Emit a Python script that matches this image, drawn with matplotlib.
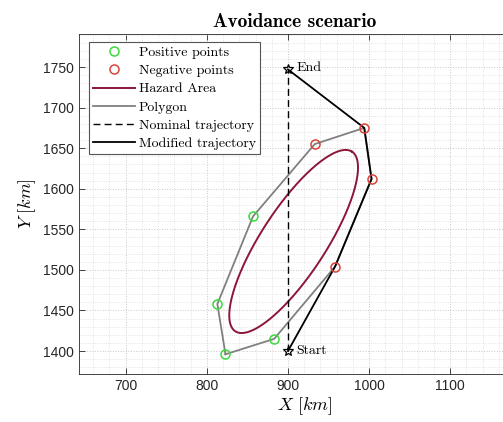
import numpy as np
import matplotlib
matplotlib.use("Agg")
import matplotlib.pyplot as plt
from matplotlib.ticker import MultipleLocator

plt.rcParams['mathtext.fontset'] = 'cm'

# ---- data ----
pos_x = [823, 883, 857, 813]
pos_y = [1396, 1415, 1566, 1458]
neg_x = [933, 994, 1003, 958]
neg_y = [1655, 1675, 1612, 1504]

poly_x = [823, 883, 958, 1003, 994, 933, 857, 813, 823]
poly_y = [1396, 1415, 1504, 1612, 1675, 1655, 1566, 1458, 1396]

nom_x = [900, 900]
nom_y = [1400, 1747]

mod_x = [900, 958, 1003, 994, 900]
mod_y = [1400, 1504, 1612, 1675, 1747]

start_pt = (900, 1400)
end_pt = (900, 1747)

haz_center = (907, 1535)
haz_a = 132.0
haz_b = 40.0
haz_angle_deg = 57.0

xticks = [700, 800, 900, 1000, 1100]
yticks = [1400, 1450, 1500, 1550, 1600, 1650, 1700, 1750]

# ---- figure ----
W, H = 503, 422
fig = plt.figure(figsize=(W / 100, H / 100), dpi=100)
ax_l, ax_r, ax_t, ax_b = 79, 530, 34, 374
ax = fig.add_axes([ax_l / W, (H - ax_b) / H, (ax_r - ax_l) / W, (ax_b - ax_t) / H])

scale = 0.8115  # px per km
x0 = 642.5
ax.set_xlim(x0, x0 + (ax_r - ax_l) / scale)
ax.set_ylim(1371.7, 1371.7 + (ax_b - ax_t) / scale)

# hazard ellipse
t = np.linspace(0, 2 * np.pi, 400)
phi = np.deg2rad(haz_angle_deg)
ex = haz_center[0] + haz_a * np.cos(t) * np.cos(phi) - haz_b * np.sin(t) * np.sin(phi)
ey = haz_center[1] + haz_a * np.cos(t) * np.sin(phi) + haz_b * np.sin(t) * np.cos(phi)

green = '#3cd93c'
red = '#d9443a'
hazard = '#8c1538'
gray = '#808080'

h_pos, = ax.plot(pos_x, pos_y, 'o', ms=6.5, mfc='none', mec=green, mew=1.1, zorder=6)
h_neg, = ax.plot(neg_x, neg_y, 'o', ms=6.5, mfc='none', mec=red, mew=1.1, zorder=6)
h_haz, = ax.plot(ex, ey, '-', color=hazard, lw=1.4, zorder=3)
h_poly, = ax.plot(poly_x, poly_y, '-', color=gray, lw=1.3, zorder=3)
h_nom, = ax.plot(nom_x, nom_y, '--', color='black', lw=1.0, dashes=(5, 3), zorder=4)
h_mod, = ax.plot(mod_x, mod_y, '-', color='black', lw=1.3, zorder=5)

ax.plot([start_pt[0], end_pt[0]], [start_pt[1], end_pt[1]], '*', ms=7,
        mfc='none', mec='black', mew=0.9, zorder=7)
ax.text(start_pt[0] + 10, start_pt[1], 'Start', family='cmr10', fontsize=10,
        va='center', ha='left')
ax.text(end_pt[0] + 10, end_pt[1] + 2, 'End', family='cmr10', fontsize=10,
        va='center', ha='left')

ax.set_xticks(xticks)
ax.set_yticks(yticks)
ax.xaxis.set_minor_locator(MultipleLocator(20))
ax.yaxis.set_minor_locator(MultipleLocator(10))
ax.grid(True, which='major', ls=':', color='#c8c8c8', lw=0.7)
ax.grid(True, which='minor', ls=':', color='#dcdcdc', lw=0.6)
ax.set_axisbelow(True)

ax.tick_params(which='major', direction='in', length=4, width=0.6,
               top=True, right=True, labelsize=10, colors='#262626')
ax.tick_params(which='minor', length=0)
for lab in ax.get_xticklabels() + ax.get_yticklabels():
    lab.set_family('Liberation Sans')
for s in ax.spines.values():
    s.set_color('#262626')
    s.set_linewidth(0.6)

ax.set_xlabel(r'$X\ [km]$', fontsize=13, labelpad=2)
ax.set_ylabel(r'$Y\ [km]$', fontsize=13, labelpad=4)
ax.set_title('Avoidance scenario', family='cmb10', fontsize=14, pad=5,
             x=(295 - ax_l) / (ax_r - ax_l))

leg = ax.legend([h_pos, h_neg, h_haz, h_poly, h_nom, h_mod],
                ['Positive points', 'Negative points', 'Hazard Area', 'Polygon',
                 'Nominal trajectory', 'Modified trajectory'],
                loc='upper left', bbox_to_anchor=(10 / (ax_r - ax_l), 1 - 8 / (ax_b - ax_t)),
                borderaxespad=0, prop={'family': 'cmr10', 'size': 10},
                handlelength=3.0, handletextpad=0.3, labelspacing=0.4,
                borderpad=0.3, fancybox=False, framealpha=1, edgecolor='#555555')
leg.get_frame().set_linewidth(0.8)
leg.set_zorder(10)

fig.savefig('out.png', dpi=100)
